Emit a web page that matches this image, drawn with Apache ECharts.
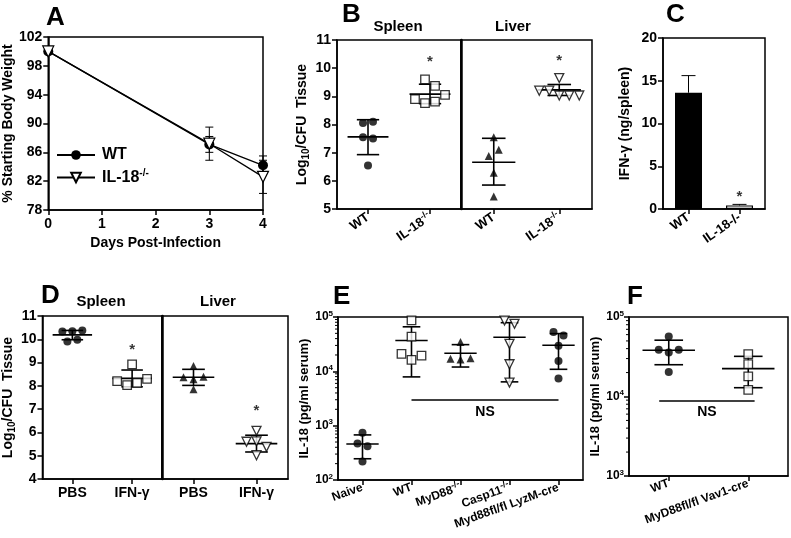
<!DOCTYPE html>
<html><head><meta charset="utf-8">
<script src="https://cdn.jsdelivr.net/npm/echarts@6/dist/echarts.min.js"></script>
<style>html,body{margin:0;padding:0;background:#fff}#c{width:791px;height:538px}</style>
</head><body><div id="c"></div>
<script>
// ================= DATA =================
// Panel A: % starting body weight
const aDays = [0, 3, 4];
const aWTmean = [100, 87.1, 84.2];
const aWTsd = [0, 1.1, 1.3];
const aKOmean = [100, 87.2, 82.6];
const aKOsd = [0, 2.3, 2.3];

// Panel B: Log10 CFU
const bCats = ['WT', 'IL-18-/-'];
const bSpleenWT = [8.05, 8.1, 7.55, 7.5, 6.54];
const bSpleenKO = [9.6, 9.37, 8.9, 8.76, 8.81, 9.05];
const bLiverWT = [7.55, 6.88, 7.1, 6.29, 5.44];
const bLiverKO = [9.65, 9.2, 9.2, 9.03, 9.03, 9.03];
const bSpleenMean = [7.56, 9.08], bSpleenLo = [6.93, 8.74], bSpleenHi = [8.17, 9.43];
const bLiverMean = [6.66, 9.23], bLiverLo = [5.85, 9.03], bLiverHi = [7.51, 9.42];
const bStarSpleen = 10.38, bStarLiver = 10.4;

// Panel C: IFN-gamma
const cCats = ['WT', 'IL-18-/-'];
const cMean = [13.6, 0.42];
const cErr = [2.0, 0.12];
const cStar = 1.87;

// Panel D
const dCats = ['PBS', 'IFN-γ'];
const dSpleenPBS = [10.33, 10.35, 10.38, 9.9, 9.98];
const dSpleenIFN = [8.2, 8.03, 8.92, 8.13, 8.3];
const dLiverPBS = [8.85, 8.37, 8.28, 8.39, 7.85];
const dLiverIFN = [6.07, 5.6, 5.62, 5.38, 5.02];
const dSpleenMean = [10.19, 8.32], dSpleenLo = [9.98, 7.96], dSpleenHi = [10.38, 8.68];
const dLiverMean = [8.37, 5.52], dLiverLo = [8.02, 5.16], dLiverHi = [8.71, 5.88];
const dStarSpleen = 9.7, dStarLiver = 7.1;

// Panel E: IL-18 pg/ml serum
const eCats = ['Naive', 'WT', 'MyD88-/-', 'Casp11-/-', 'Myd88fl/fl LyzM-cre'];
const eNaive = [741, 468, 417, 219];
const eWT = [86500, 43600, 21000, 16200, 19400];
const eMyD88 = [34600, 17000, 16500, 17500];
const eCasp11 = [86000, 75000, 32000, 13500, 6200];
const eMyd88fl = [52800, 45800, 29600, 15500, 7400];
const eMean = [461, 37000, 21500, 42500, 30200];
const eLo = [246, 7900, 12000, 6400, 10900];
const eHi = [676, 66000, 31000, 78600, 49500];
const eNS = {from: 1, to: 4, level: 2950};

// Panel F
const fCats = ['WT', 'MyD88fl/fl Vav1-cre'];
const fWT = [57000, 38700, 35800, 38700, 20300];
const fKO = [34200, 25600, 17900, 12100];
const fMean = [38100, 22450], fLo = [25100, 12900], fHi = [51100, 32000];
const fNS = {from: -0.12, to: 1.08, level: 8900};

// ================= LAYOUT / STYLE =================
const FONT = 'Liberation Sans';
const BOLD = {fontFamily: FONT, fontWeight: 'bold', color: '#000'};
const SUP = {fontFamily: FONT, fontWeight: 'bold', color: '#000', fontSize: 9, padding: [0, 0, 8, 0]};
const SUB = {fontFamily: FONT, fontWeight: 'bold', color: '#000', fontSize: 10, padding: [8, 0, 0, 0]};
const LW = 1.5;
const grids = [
  {left: 45, top: 37, width: 218, height: 173},   // 0 A
  {left: 337, top: 40, width: 124, height: 169},  // 1 B spleen
  {left: 461, top: 40, width: 131, height: 169},  // 2 B liver
  {left: 663, top: 38, width: 102, height: 171},  // 3 C
  {left: 42, top: 316, width: 120, height: 163},  // 4 D spleen
  {left: 162, top: 316, width: 126, height: 163}, // 5 D liver
  {left: 338, top: 317, width: 245, height: 163}, // 6 E
  {left: 629, top: 317, width: 159, height: 159}  // 7 F
];
const supFmt = v => String(v).replace('-/-', '{sup|-/-}');
const xAxes = [], yAxes = [], series = [];

function addX(cfg) { xAxes.push(cfg); return xAxes.length - 1; }
function addY(cfg) { yAxes.push(cfg); return yAxes.length - 1; }
const axLine = (w) => ({show: true, onZero: false, lineStyle: {color: '#000', width: w || LW}});
const axTick = {show: true, length: 5, lineStyle: {color: '#000', width: LW}};

function catX(g, cats, rotate, fs, fmt) {
  return addX({type: 'category', gridIndex: g, data: cats, position: 'bottom',
    axisLine: axLine(), axisTick: Object.assign({alignWithLabel: true}, axTick),
    axisLabel: Object.assign({rotate: rotate, fontSize: fs, interval: 0, margin: 7,
      formatter: fmt || supFmt, rich: {sup: SUP}}, BOLD),
    splitLine: {show: false}});
}
function hidX(g, n) { return addX({type: 'value', gridIndex: g, min: -0.5, max: n - 0.5, show: false}); }
function valY(g, min, max, interval, name, gap, opts) {
  opts = opts || {};
  return addY(Object.assign({type: 'value', gridIndex: g, min, max, interval,
    name, nameLocation: 'middle', nameGap: gap,
    nameTextStyle: Object.assign({fontSize: 14, rich: {sub: SUB, sup: SUP}}, BOLD),
    axisLine: axLine(opts.lw), axisTick: opts.noLabels ? {show: false} : axTick,
    axisLabel: Object.assign({show: !opts.noLabels, fontSize: 14, margin: 6}, BOLD),
    splitLine: {show: false}}, opts.extra || {}));
}
function logY(g, min, max, name, gap) {
  return addY({type: 'log', logBase: 10, gridIndex: g, min, max,
    name, nameLocation: 'middle', nameGap: gap,
    nameTextStyle: Object.assign({fontSize: 13}, BOLD),
    axisLine: axLine(), axisTick: axTick,
    axisLabel: Object.assign({fontSize: 12, margin: 5,
      formatter: v => '10{sup|' + Math.round(Math.log10(v)) + '}',
      rich: {sup: {fontFamily: FONT, color: '#000', fontSize: 8, padding: [0, 0, 7, 0]}}}, BOLD),
    splitLine: {show: false}});
}

// beeswarm-like placement of points sharing a row
const ROW_TH = 9, ROW_SP = 10;
function swarm(vals, idx, g, nCats, yMin, yMax, isLog) {
  const f = isLog ? Math.log10 : (v => v);
  const H = grids[g].height, band = grids[g].width / nCats;
  const ppu = H / (f(yMax) - f(yMin));
  const items = vals.map((v, i) => ({v, i, py: (f(yMax) - f(v)) * ppu}));
  const sorted = items.slice().sort((a, b) => a.py - b.py);
  const rows = [];
  sorted.forEach(it => {
    const r = rows[rows.length - 1];
    if (r && it.py - r[0].py < ROW_TH) r.push(it); else rows.push([it]);
  });
  const out = new Array(vals.length);
  rows.forEach(r => {
    r.sort((a, b) => a.i - b.i);
    r.forEach((it, k) => { out[it.i] = [idx + (k - (r.length - 1) / 2) * ROW_SP / band, it.v]; });
  });
  return out;
}

const SYM = {
  dot: {symbol: 'circle', symbolSize: 8, itemStyle: {color: '#000'}},
  sq: {symbol: 'rect', symbolSize: 8.5, itemStyle: {color: '#fff', borderColor: '#000', borderWidth: 1.3}},
  tri: {symbol: 'triangle', symbolSize: 8, itemStyle: {color: '#000'}},
  vtri: {symbol: 'triangle', symbolRotate: 180, symbolSize: 9, itemStyle: {color: '#fff', borderColor: '#000', borderWidth: 1.3}}
};
function scat(xi, yi, data, sym) {
  series.push(Object.assign({type: 'scatter', xAxisIndex: xi, yAxisIndex: yi, data, z: 4, silent: true}, SYM[sym]));
}
function errSeries(xi, yi, mean, lo, hi) {
  series.push({type: 'custom', xAxisIndex: xi, yAxisIndex: yi, z: 3, silent: true,
    data: mean.map((m, i) => [i, m, lo[i], hi[i]]),
    encode: {x: 0, y: [1, 2, 3]},
    renderItem: function (params, api) {
      const x = api.value(0), m = api.value(1), lo = api.value(2), hi = api.value(3);
      const pm = api.coord([x, m]), pl = api.coord([x, lo]), ph = api.coord([x, hi]);
      const band = api.coord([x + 0.5, m])[0] - api.coord([x - 0.5, m])[0];
      const mh = band * 0.33, ch = band * 0.18;
      const st = {stroke: '#000', lineWidth: 1.6};
      return {type: 'group', children: [
        {type: 'line', shape: {x1: pl[0], y1: pl[1], x2: ph[0], y2: ph[1]}, style: st},
        {type: 'line', shape: {x1: pm[0] - mh, y1: pm[1], x2: pm[0] + mh, y2: pm[1]}, style: st},
        {type: 'line', shape: {x1: pl[0] - ch, y1: pl[1], x2: pl[0] + ch, y2: pl[1]}, style: st},
        {type: 'line', shape: {x1: ph[0] - ch, y1: ph[1], x2: ph[0] + ch, y2: ph[1]}, style: st}
      ]};
    }});
}
function stars(xi, yi, pts) {
  series.push({type: 'scatter', xAxisIndex: xi, yAxisIndex: yi, data: pts, symbolSize: 1, z: 5, silent: true,
    itemStyle: {color: 'rgba(0,0,0,0)'},
    label: {show: true, position: 'inside', formatter: '*', fontSize: 15, fontWeight: 'bold', fontFamily: FONT, color: '#000', offset: [0, 4]}});
}
function minorTicks(xi, yi, minExp, maxExp) {
  const vals = [];
  for (let k = minExp; k < maxExp; k++) for (let m = 2; m <= 9; m++) vals.push([-0.5, m * Math.pow(10, k)]);
  series.push({type: 'custom', xAxisIndex: xi, yAxisIndex: yi, data: vals, silent: true, clip: false, z: 2,
    renderItem: (p, api) => {
      const pt = api.coord([api.value(0), api.value(1)]);
      return {type: 'line', shape: {x1: pt[0] - 3, y1: pt[1], x2: pt[0], y2: pt[1]}, style: {stroke: '#000', lineWidth: 1}};
    }});
}
function nsLine(xi, yi, ns) {
  series.push({type: 'scatter', xAxisIndex: xi, yAxisIndex: yi, data: [], silent: true,
    markLine: {silent: true, symbol: 'none', animation: false,
      lineStyle: {color: '#000', width: 1.5, type: 'solid'},
      label: {show: true, formatter: 'NS', position: 'insideMiddleBottom', distance: 5, fontSize: 14, fontWeight: 'bold', fontFamily: FONT, color: '#000'},
      data: [[{coord: [ns.from, ns.level]}, {coord: [ns.to, ns.level]}]]}});
}

// ---------- Panel A ----------
const axA = addX({type: 'value', gridIndex: 0, min: 0, max: 4, interval: 1,
  name: 'Days Post-Infection', nameLocation: 'middle', nameGap: 26,
  nameTextStyle: Object.assign({fontSize: 14}, BOLD),
  axisLine: axLine(), axisTick: axTick, axisLabel: Object.assign({fontSize: 14, margin: 7}, BOLD), splitLine: {show: false}});
const ayA = valY(0, 78, 102, 4, '% Starting Body Weight', 27);
series.push({type: 'custom', xAxisIndex: axA, yAxisIndex: ayA, z: 1, silent: true,
  data: aDays.map((d, i) => [d, aWTmean[i], aWTsd[i]]).concat(aDays.map((d, i) => [d, aKOmean[i], aKOsd[i]])),
  encode: {x: 0, y: 1},
  renderItem: (p, api) => {
    const d = api.value(0), m = api.value(1), e = api.value(2);
    if (!e) return null;
    const a = api.coord([d, m - e]), b = api.coord([d, m + e]);
    const st = {stroke: '#000', lineWidth: 1};
    return {type: 'group', children: [
      {type: 'line', shape: {x1: a[0], y1: a[1], x2: b[0], y2: b[1]}, style: st},
      {type: 'line', shape: {x1: a[0] - 4, y1: a[1], x2: a[0] + 4, y2: a[1]}, style: st},
      {type: 'line', shape: {x1: b[0] - 4, y1: b[1], x2: b[0] + 4, y2: b[1]}, style: st}]};
  }});
series.push({type: 'line', name: 'WT', xAxisIndex: axA, yAxisIndex: ayA, data: aDays.map((d, i) => [d, aWTmean[i]]),
  symbol: 'circle', symbolSize: 10, lineStyle: {color: '#000', width: 1.3}, itemStyle: {color: '#000'}, z: 3, silent: true});
series.push({type: 'line', name: 'IL18', xAxisIndex: axA, yAxisIndex: ayA, data: aDays.map((d, i) => [d, aKOmean[i]]),
  symbol: 'triangle', symbolRotate: 180, symbolSize: 11, showAllSymbol: true,
  lineStyle: {color: '#000', width: 1.3}, itemStyle: {color: '#fff', borderColor: '#000', borderWidth: 1.2}, z: 4, silent: true});

// ---------- Panel B ----------
catX(1, bCats, 35, 13);
const bxs = hidX(1, 2);
catX(2, bCats, 35, 13);
const bxl = hidX(2, 2);
const bys = valY(1, 5, 11, 1, 'Log{sub|10}/CFU  Tissue', 22);
const byl = valY(2, 5, 11, 1, '', 0, {noLabels: true, lw: 2.5});
errSeries(bxs, bys, bSpleenMean, bSpleenLo, bSpleenHi);
scat(bxs, bys, swarm(bSpleenWT, 0, 1, 2, 5, 11), 'dot');
scat(bxs, bys, swarm(bSpleenKO, 1, 1, 2, 5, 11), 'sq');
stars(bxs, bys, [[1, bStarSpleen]]);
errSeries(bxl, byl, bLiverMean, bLiverLo, bLiverHi);
scat(bxl, byl, swarm(bLiverWT, 0, 2, 2, 5, 11), 'tri');
scat(bxl, byl, swarm(bLiverKO, 1, 2, 2, 5, 11), 'vtri');
stars(bxl, byl, [[1, bStarLiver]]);

// ---------- Panel C ----------
const cx = catX(3, cCats, 35, 13, v => v);
const cy = valY(3, 0, 20, 5, 'IFN-γ (ng/spleen)', 31);
series.push({type: 'bar', xAxisIndex: cx, yAxisIndex: cy, barWidth: 27, silent: true, z: 3,
  data: cMean.map((v, i) => ({value: v, itemStyle: i === 0 ? {color: '#000'} : {color: '#fff', borderColor: '#000', borderWidth: 1.2}}))});
series.push({type: 'custom', xAxisIndex: cx, yAxisIndex: cy, z: 2, silent: true,
  data: cMean.map((m, i) => [i, m, m + cErr[i]]), encode: {x: 0, y: [1, 2]},
  renderItem: (p, api) => {
    const a = api.coord([api.value(0), api.value(1)]), b = api.coord([api.value(0), api.value(2)]);
    const st = {stroke: '#000', lineWidth: 1};
    return {type: 'group', children: [
      {type: 'line', shape: {x1: a[0], y1: a[1], x2: b[0], y2: b[1]}, style: st},
      {type: 'line', shape: {x1: b[0] - 7, y1: b[1], x2: b[0] + 7, y2: b[1]}, style: st}]};
  }});
stars(cx, cy, [[1, cStar]]);

// ---------- Panel D ----------
catX(4, dCats, 0, 14);
const dxs = hidX(4, 2);
catX(5, dCats, 0, 14);
const dxl = hidX(5, 2);
const dys = valY(4, 4, 11, 1, 'Log{sub|10}/CFU  Tissue', 20);
const dyl = valY(5, 4, 11, 1, '', 0, {noLabels: true, lw: 2.5});
errSeries(dxs, dys, dSpleenMean, dSpleenLo, dSpleenHi);
scat(dxs, dys, swarm(dSpleenPBS, 0, 4, 2, 4, 11), 'dot');
scat(dxs, dys, swarm(dSpleenIFN, 1, 4, 2, 4, 11), 'sq');
stars(dxs, dys, [[1, dStarSpleen]]);
errSeries(dxl, dyl, dLiverMean, dLiverLo, dLiverHi);
scat(dxl, dyl, swarm(dLiverPBS, 0, 5, 2, 4, 11), 'tri');
scat(dxl, dyl, swarm(dLiverIFN, 1, 5, 2, 4, 11), 'vtri');
stars(dxl, dyl, [[1, dStarLiver]]);

// ---------- Panel E ----------
catX(6, eCats, 20, 12);
const ex = hidX(6, 5);
const ey = logY(6, 100, 100000, 'IL-18 (pg/ml serum)', 26);
minorTicks(ex, ey, 2, 5);
errSeries(ex, ey, eMean, eLo, eHi);
scat(ex, ey, swarm(eNaive, 0, 6, 5, 100, 100000, true), 'dot');
scat(ex, ey, swarm(eWT, 1, 6, 5, 100, 100000, true), 'sq');
scat(ex, ey, swarm(eMyD88, 2, 6, 5, 100, 100000, true), 'tri');
scat(ex, ey, swarm(eCasp11, 3, 6, 5, 100, 100000, true), 'vtri');
scat(ex, ey, swarm(eMyd88fl, 4, 6, 5, 100, 100000, true), 'dot');
nsLine(ex, ey, eNS);

// ---------- Panel F ----------
catX(7, fCats, 20, 12);
const fx = hidX(7, 2);
const fy = logY(7, 1000, 100000, 'IL-18 (pg/ml serum)', 25);
minorTicks(fx, fy, 3, 5);
errSeries(fx, fy, fMean, fLo, fHi);
scat(fx, fy, swarm(fWT, 0, 7, 2, 1000, 100000, true), 'dot');
scat(fx, fy, swarm(fKO, 1, 7, 2, 1000, 100000, true), 'sq');
nsLine(fx, fy, fNS);

// ---------- Titles ----------
const letter = (t, l, tp) => ({text: t, left: l, top: tp, padding: 0, textStyle: Object.assign({fontSize: 26}, BOLD)});
const sub = (t, l, tp) => ({text: t, left: l, top: tp, padding: 0, textAlign: 'center', textStyle: Object.assign({fontSize: 15}, BOLD)});
const titles = [
  letter('A', 46, 5), letter('B', 342, 2), letter('C', 666, 2),
  letter('D', 41, 283), letter('E', 333, 284), letter('F', 627, 284),
  sub('Spleen', 398, 19), sub('Liver', 513, 19),
  sub('Spleen', 101, 294), sub('Liver', 218, 294)
];

const option = {
  animation: false,
  textStyle: {fontFamily: FONT},
  title: titles,
  legend: {data: ['WT', 'IL18'], left: 51, top: 142, orient: 'vertical', itemGap: 5, itemWidth: 38, itemHeight: 12,
    selectedMode: false,
    formatter: n => n === 'IL18' ? 'IL-18{sup|-/-}' : n,
    textStyle: Object.assign({fontSize: 16, padding: [0, 0, 0, 2], rich: {sup: {fontFamily: FONT, fontWeight: 'bold', color: '#000', fontSize: 10, padding: [0, 0, 9, 0]}}}, BOLD)},
  grid: grids.map(g => Object.assign({show: true, borderColor: '#000', borderWidth: LW, containLabel: false}, g)),
  xAxis: xAxes,
  yAxis: yAxes,
  series: series
};
const chart = echarts.init(document.getElementById('c'), null, {renderer: 'canvas'});
chart.setOption(option);
</script></body></html>
